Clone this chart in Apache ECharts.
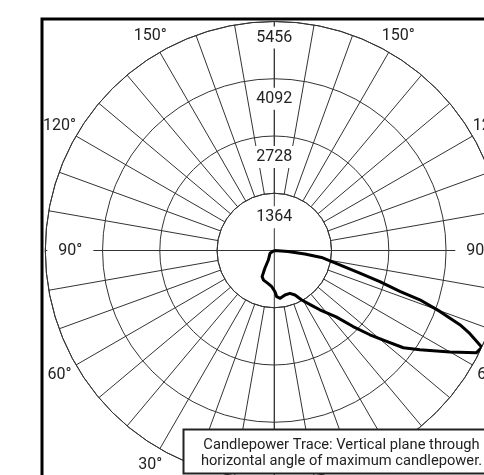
<!DOCTYPE html>
<html><head><meta charset="utf-8">
<script src="https://cdn.jsdelivr.net/npm/echarts@6/dist/echarts.min.js"></script>
<style>html,body{margin:0;padding:0;background:#fff}#c{width:484px;height:475px}</style>
</head><body><div id="c"></div>
<script>
// Candlepower trace: angle from nadir (deg, + = right side), candela
const traceAngles = [-60, -57, -32, -28, -25, -20, -11, -4, 1, 3, 7, 13.5, 20, 25, 29, 34, 37.5, 43, 46, 48.6, 51, 53, 55.7, 60, 63.2, 65, 67, 68.2, 69.8, 71.3, 72, 73.6, 75.2, 77.7, 81.6, 83.3, 86, 90];
const traceValues = [0, 122, 268, 479, 687, 750, 797, 865, 982, 1102, 1147, 1091, 1086, 1169, 1348, 1568, 1781, 2161, 2609, 3036, 3443, 3851, 4198, 4833, 5397, 5456, 5057, 4762, 4203, 3661, 3146, 2621, 2107, 1597, 1137, 732, 330, 0];
const radiusTicks = [1364, 2728, 4092, 5456];
const angleLabelValues = [-150, -120, -90, -60, -30, 150, 120, 90, 60, 30];
const legendLines = ['Candlepower Trace: Vertical plane through', 'horizontal angle of maximum candlepower.'];

const CX = 274.3, CY = 250.5, R = 229, RMAX = 5456;
const LABEL_R = 5910, LABEL_R90 = 4860;
const TICK_LABEL_SHIFT = [24, 21, 20, 16];
const gridColor = '#333';
const FONT = 'Roboto, "Liberation Sans", sans-serif';

const chart = echarts.init(document.getElementById('c'), null, {renderer: 'canvas'});
const data = traceAngles.map((a, i) => [traceValues[i], a]);

chart.setOption({
  animation: false,
  polar: [
    {center: [CX, CY], radius: [R * radiusTicks[0] / RMAX, R]},
    {center: [CX, CY], radius: [0, R]}
  ],
  angleAxis: [
    {polarIndex: 0, type: 'value', min: -180, max: 180, interval: 10, startAngle: 90, clockwise: false,
     axisLine: {show: true, lineStyle: {color: gridColor, width: 1}}, axisTick: {show: false}, axisLabel: {show: false},
     splitLine: {show: true, lineStyle: {color: gridColor, width: 1}}},
    {polarIndex: 1, type: 'value', min: -180, max: 180, interval: 90, startAngle: 90, clockwise: false,
     axisLine: {show: false}, axisTick: {show: false}, axisLabel: {show: false},
     splitLine: {show: true, lineStyle: {color: gridColor, width: 1}}}
  ],
  radiusAxis: [
    {polarIndex: 0, type: 'value', min: radiusTicks[0], max: RMAX, interval: 1364,
     axisLine: {show: false}, axisTick: {show: false}, axisLabel: {show: false},
     splitLine: {show: true, lineStyle: {color: gridColor, width: 1}}},
    {polarIndex: 1, type: 'value', min: 0, max: RMAX, interval: 1364,
     axisLine: {show: false}, axisTick: {show: false}, axisLabel: {show: false}, splitLine: {show: false}}
  ],
  series: [{
    type: 'line', coordinateSystem: 'polar', polarIndex: 1, data: data,
    showSymbol: false, symbol: 'none', smooth: false, z: 5,
    lineStyle: {color: '#000', width: 3, join: 'round'}
  }]
});

const toPx = (r, a) => chart.convertToPixel({seriesIndex: 0}, [r, a]);
const graphics = [];
radiusTicks.forEach((v, i) => {
  const p = toPx(v, 180);
  graphics.push({type: 'text', z: 50, style: {text: String(v), x: p[0], y: p[1] + TICK_LABEL_SHIFT[i], align: 'center', verticalAlign: 'middle',
    font: '16px ' + FONT, fill: '#222', backgroundColor: '#fff', padding: [3, 2, 3, 2]}});
});
angleLabelValues.forEach(a => {
  const abs = Math.abs(a);
  const p = toPx(abs === 90 ? LABEL_R90 : LABEL_R, a);
  graphics.push({type: 'text', z: 50, style: {text: abs + '°', x: p[0], y: p[1], align: 'center', verticalAlign: 'middle',
    font: '16px ' + FONT, fill: '#222', backgroundColor: abs === 90 ? '#fff' : null, padding: abs === 90 ? [3, 11, 3, 11] : 0}});
});
// frame
graphics.push({type: 'rect', z: 60, shape: {x: 42, y: 19, width: 600, height: 600}, style: {fill: null, stroke: '#000', lineWidth: 3}});
// legend box
graphics.push({type: 'rect', z: 70, shape: {x: 183.5, y: 429.5, width: 400, height: 44}, style: {fill: '#fff', stroke: '#222', lineWidth: 2}});
legendLines.forEach((t, i) => {
  graphics.push({type: 'text', z: 71, style: {text: t, x: 341.5, y: 445 + i * 16.7, align: 'center', verticalAlign: 'middle',
    font: '14.7px ' + FONT, fill: '#222'}});
});
chart.setOption({graphic: graphics});
</script>
</body></html>
